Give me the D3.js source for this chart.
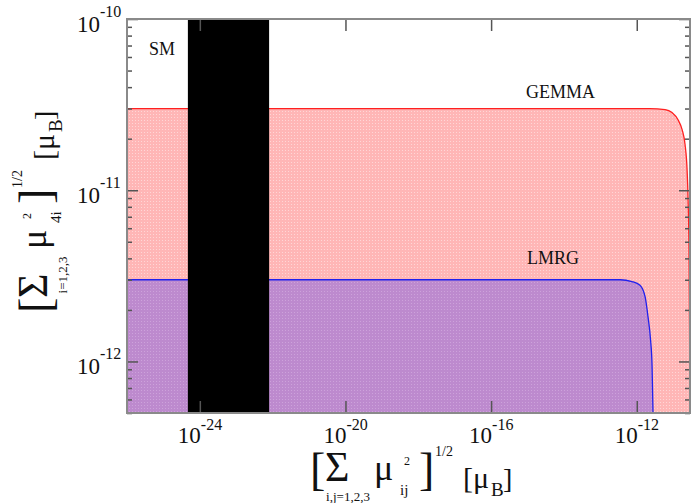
<!DOCTYPE html>
<html lang="en">
<head>
  <meta charset="UTF-8">
  <title>GEMMA / LMRG bounds</title>
  <style>
    body { margin: 0; background: #fff; }
    svg text { font-family: "Liberation Serif", "Times New Roman", serif; fill: #111; }
    .frame { fill: none; stroke: #8a8a8a; stroke-width: 2; }
    .axis path { display: none; }
    .axis line { stroke: #555; stroke-width: 1.5; }
  </style>
</head>
<body>
  <div id="chart"></div>
  <script src="https://d3js.org/d3.v7.min.js"></script>
  <script>
    // boundary of the GEMMA excluded region
    var gemmaX = [1e-26, 2.3e-12, 6e-12, 9.3e-12, 1.36e-11, 1.76e-11, 2.12e-11, 2.41e-11, 2.57e-11, 2.74e-11, 2.82e-11, 2.9e-11]
    var gemmaY = [3e-11, 3e-11, 2.96e-11, 2.84e-11, 2.58e-11, 2.26e-11, 1.85e-11, 1.32e-11, 8.8e-12, 3.9e-12, 1.53e-12, 5e-13]
    // boundary of the LMRG region
    var lmrgX = [1e-26, 3.5e-13, 7.4e-13, 1.23e-12, 1.7e-12, 2.04e-12, 2.4e-12, 2.63e-12, 2.8e-12]
    var lmrgY = [3e-12, 3e-12, 2.93e-12, 2.79e-12, 2.38e-12, 1.82e-12, 1.33e-12, 9.5e-13, 5e-13]
    // standard model band (x range)
    var smBand = [4.7e-25, 8e-23]
    var xTicks = [1e-24, 1e-20, 1e-16, 1e-12]
    var xTickLabels = ['-24', '-20', '-16', '-12']
    var yTicks = [1e-10, 1e-11, 1e-12]
    var yTickLabels = ['-10', '-11', '-12']

    var width = 695
    var height = 503
    var plot = {left: 127, right: 690, top: 19, bottom: 413}

    var svg = d3.select('#chart')
      .append('svg')
      .attr('width', width)
      .attr('height', height)

    var xScale = d3.scaleLog()
      .domain([1e-26, 2.9e-11])
      .range([plot.left, plot.right])
    var yScale = d3.scaleLog()
      .domain([5e-13, 1e-10])
      .range([plot.bottom, plot.top])

    var defs = svg.append('defs')
    defs.append('clipPath').attr('id', 'clip')
      .append('rect')
      .attr('x', plot.left).attr('y', plot.top)
      .attr('width', plot.right - plot.left).attr('height', plot.bottom - plot.top)

    // fine dotted texture like the original fills
    function dots(id, base, dot) {
      var p = defs.append('pattern').attr('id', id)
        .attr('patternUnits', 'userSpaceOnUse').attr('width', 3).attr('height', 3)
      p.append('rect').attr('width', 3).attr('height', 3).attr('fill', base)
      p.append('rect').attr('width', 1).attr('height', 1).attr('fill', dot)
    }
    dots('pinkDots', '#ffb6b6', '#ffd6d6')
    dots('purpleDots', '#bd8ace', '#cda2db')

    var g = svg.append('g').attr('clip-path', 'url(#clip)')

    function toPts(xs, ys) {
      return xs.map(function (d, i) { return [d, ys[i]] })
    }
    var area = d3.area()
      .x(function (d) { return xScale(d[0]) })
      .y0(plot.bottom)
      .y1(function (d) { return yScale(d[1]) })
      .curve(d3.curveMonotoneX)
    var line = d3.line()
      .x(function (d) { return xScale(d[0]) })
      .y(function (d) { return yScale(d[1]) })
      .curve(d3.curveMonotoneX)

    var gemma = toPts(gemmaX, gemmaY)
    var lmrg = toPts(lmrgX, lmrgY)

    g.append('path').datum(gemma).attr('d', area).attr('fill', 'url(#pinkDots)')
    g.append('path').datum(lmrg).attr('d', area).attr('fill', 'url(#purpleDots)')
    g.append('path').datum(gemma).attr('d', line)
      .attr('fill', 'none').attr('stroke', '#ff2020').attr('stroke-width', 1.3)
    g.append('path').datum(lmrg).attr('d', line)
      .attr('fill', 'none').attr('stroke', '#2020ee').attr('stroke-width', 1.3)

    g.append('rect')
      .attr('x', xScale(smBand[0]))
      .attr('width', xScale(smBand[1]) - xScale(smBand[0]))
      .attr('y', plot.top)
      .attr('height', plot.bottom - plot.top)
      .attr('fill', '#000')

    // ticks on all four sides, pointing inwards
    var yAll = yScale.ticks()
    var yMinor = yAll.filter(function (d) {
      return yTicks.every(function (t) { return Math.abs(d / t - 1) > 1e-6 })
    })
    function addAxis(axis, tx, ty) {
      svg.append('g').attr('class', 'axis')
        .attr('transform', 'translate(' + tx + ',' + ty + ')')
        .call(axis)
    }
    addAxis(d3.axisBottom(xScale).tickValues(xTicks).tickSize(-12).tickFormat(''), 0, plot.bottom)
    addAxis(d3.axisTop(xScale).tickValues(xTicks).tickSize(-12).tickFormat(''), 0, plot.top)
    addAxis(d3.axisLeft(yScale).tickValues(yTicks).tickSize(-11).tickFormat(''), plot.left, 0)
    addAxis(d3.axisLeft(yScale).tickValues(yMinor).tickSize(-5).tickFormat(''), plot.left, 0)
    addAxis(d3.axisRight(yScale).tickValues(yTicks).tickSize(-11).tickFormat(''), plot.right, 0)
    addAxis(d3.axisRight(yScale).tickValues(yMinor).tickSize(-5).tickFormat(''), plot.right, 0)

    svg.append('rect').attr('class', 'frame')
      .attr('x', plot.left).attr('y', plot.top)
      .attr('width', plot.right - plot.left).attr('height', plot.bottom - plot.top)

    // tick labels 10^n
    xTicks.forEach(function (t, i) {
      var tx = svg.append('text')
        .attr('x', xScale(t) - 22)
        .attr('y', plot.bottom + 30)
        .attr('font-size', 23)
      tx.append('tspan').text('10')
      tx.append('tspan').attr('dy', -13).attr('font-size', 16).text(xTickLabels[i])
    })
    yTicks.forEach(function (t, i) {
      var ty = svg.append('text')
        .attr('x', 77)
        .attr('y', yScale(t) + 13)
        .attr('font-size', 23)
      ty.append('tspan').text('10')
      ty.append('tspan').attr('dy', -15).attr('font-size', 16).text(yTickLabels[i])
    })

    // region labels
    function label(txt, x, y) {
      svg.append('text').attr('x', x).attr('y', y).attr('font-size', 18).text(txt)
    }
    label('SM', 149, 55)
    label('GEMMA', 526, 98)
    label('LMRG', 527, 264)

    // axis titles: [ Σ μ ]^{1/2} [μ_B]
    function title(gt, sub, idx) {
      function t(s, x, y, size, anchor) {
        gt.append('text').attr('x', x).attr('y', y).attr('font-size', size)
          .attr('text-anchor', anchor || 'start').text(s)
      }
      t('[', 0, 2, 46)
      t('\u03A3', 15, -2, 42)
      t(sub, 38, 18, 13, 'middle')
      t('\u03BC', 64, -3, 36)
      t('2', 94, -18, 12)
      t(idx, 90, 12, 15)
      t(']', 109, 2, 46)
      t('1/2', 125, -27, 14)
      t('[\u03BC', 153, 5, 30)
      t('B', 181, 13, 19)
      t(']', 193, 5, 28)
    }
    title(svg.append('g').attr('transform', 'translate(310,483)'), 'i,j=1,2,3', 'ij')
    title(svg.append('g').attr('transform', 'translate(49,313) rotate(-90)'), 'i=1,2,3', '4i')
  </script>
</body>
</html>
